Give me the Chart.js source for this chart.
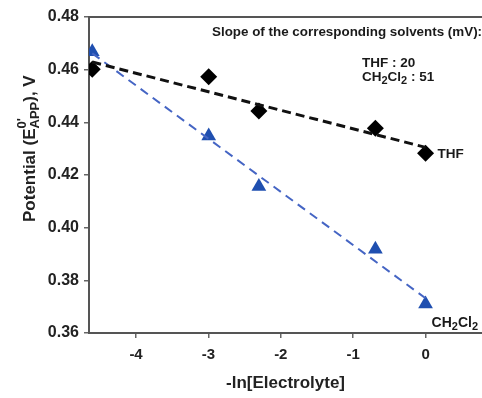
<!DOCTYPE html>
<html><head><meta charset="utf-8">
<script src="https://cdn.jsdelivr.net/npm/chart.js@4/dist/chart.umd.min.js"></script>
<style>html,body{margin:0;padding:0;background:#fff}#w{width:482px;height:398px}</style>
</head><body><div id="w"><canvas id="c" width="482" height="398"></canvas></div>
<script>
const lnElectrolyte = [-4.605, -2.996, -2.303, -0.693, 0];
const thfPotential = [0.4602, 0.4573, 0.4443, 0.4378, 0.4283];
const ch2cl2Potential = [0.4668, 0.4348, 0.4156, 0.3918, 0.3710];
const fitX = [-4.605, 0];
const thfFit = [0.4629, 0.4305];
const ch2cl2Fit = [0.4662, 0.3732];
const xTicks = [-4, -3, -2, -1, 0];
const yTicks = [0.36, 0.38, 0.40, 0.42, 0.44, 0.46, 0.48];

const pts = (xs, ys) => xs.map((x, i) => ({x, y: ys[i]}));
const F = '"Liberation Sans", Arial, sans-serif';

function subText(ctx, parts, x, y, size) {
  let cx = x;
  for (const [t, m] of parts) {
    const s = m === 'n' ? size : Math.round(size * 0.78);
    ctx.font = 'bold ' + s + 'px ' + F;
    const dy = m === 'sub' ? size * 0.3 : (m === 'sup' ? -size * 0.42 : 0);
    ctx.fillText(t, cx, y + dy);
    if (m !== 'sup') cx += ctx.measureText(t).width;
  }
  return cx - x;
}

const annot = {
  id: 'annot',
  afterDraw(chart) {
    const ctx = chart.ctx, a = chart.chartArea;
    const xs = chart.scales.x, ys = chart.scales.y;
    ctx.save();
    ctx.strokeStyle = '#555'; ctx.lineWidth = 2;
    ctx.beginPath(); ctx.moveTo(a.left, a.top); ctx.lineTo(a.right, a.top); ctx.stroke();
    ctx.fillStyle = '#1a1a1a';
    ctx.textBaseline = 'middle'; ctx.textAlign = 'left';
    ctx.font = 'bold 13.4px ' + F;
    ctx.fillText('Slope of the corresponding solvents (mV):', 212, 32);
    subText(ctx, [['THF : 20', 'n']], 362, 63, 13.5);
    subText(ctx, [['CH', 'n'], ['2', 'sub'], ['Cl', 'n'], ['2', 'sub'], [' : 51', 'n']], 362, 77, 13.5);
    const lx = xs.getPixelForValue(lnElectrolyte[4]);
    subText(ctx, [['THF', 'n']], lx + 12, ys.getPixelForValue(thfPotential[4]) + 1, 13.5);
    subText(ctx, [['CH', 'n'], ['2', 'sub'], ['Cl', 'n'], ['2', 'sub']], lx + 6, ys.getPixelForValue(ch2cl2Potential[4]) + 19, 14);
    ctx.translate(30, 222);
    ctx.rotate(-Math.PI / 2);
    ctx.fillStyle = '#222';
    subText(ctx, [['Potential (E', 'n'], ['0\'', 'sup'], ['APP', 'sub'], ['), V', 'n']], 0, 0, 17);
    ctx.restore();
  }
};

new Chart(document.getElementById('c'), {
  type: 'scatter',
  data: {
    datasets: [
      {label: 'THF fit', type: 'line', data: pts(fitX, thfFit), borderColor: '#111', borderWidth: 3,
       borderDash: [9, 5], pointRadius: 0, fill: false},
      {label: 'CH2Cl2 fit', type: 'line', data: pts(fitX, ch2cl2Fit), borderColor: '#4565c4', borderWidth: 2,
       borderDash: [9, 6], pointRadius: 0, fill: false},
      {label: 'THF', data: pts(lnElectrolyte, thfPotential), pointStyle: 'rectRot', pointRadius: 8.5,
       backgroundColor: '#000', borderColor: '#000', borderWidth: 0},
      {label: 'CH2Cl2', data: pts(lnElectrolyte, ch2cl2Potential), pointStyle: 'triangle', pointRadius: 8.5,
       backgroundColor: '#1f4fb0', borderColor: '#1f4fb0', borderWidth: 0}
    ]
  },
  options: {
    responsive: false, animation: false, devicePixelRatio: 1,
    layout: {autoPadding: false, padding: {top: 17, right: 0, left: 0, bottom: 0}},
    plugins: {legend: {display: false}, tooltip: {enabled: false}},
    scales: {
      x: {
        type: 'linear', min: -4.65, max: 0.78,
        afterBuildTicks: s => { s.ticks = xTicks.map(v => ({value: v})); },
        afterFit: s => { s.height = 65; s.paddingLeft = 0; s.paddingRight = 0; },
        grid: {drawOnChartArea: false, drawTicks: true, tickLength: 5, color: '#666', lineWidth: 1.5},
        border: {color: '#555', width: 2},
        ticks: {color: '#222', font: {family: F, size: 15, weight: 'bold'}, padding: 8},
        title: {display: true, text: '-ln[Electrolyte]', color: '#222', font: {family: F, size: 17, weight: 'bold'}, padding: {top: 10}}
      },
      y: {
        min: 0.36, max: 0.48,
        afterBuildTicks: s => { s.ticks = yTicks.map(v => ({value: v})); },
        afterFit: s => { s.width = 89; s.paddingTop = 0; s.paddingBottom = 0; },
        grid: {drawOnChartArea: false, drawTicks: true, tickLength: 5, color: '#666', lineWidth: 1.5},
        border: {color: '#555', width: 2},
        ticks: {color: '#222', font: {family: F, size: 16, weight: 'bold'}, padding: 5, callback: v => v.toFixed(2)}
      }
    }
  },
  plugins: [annot]
});
</script></body></html>
